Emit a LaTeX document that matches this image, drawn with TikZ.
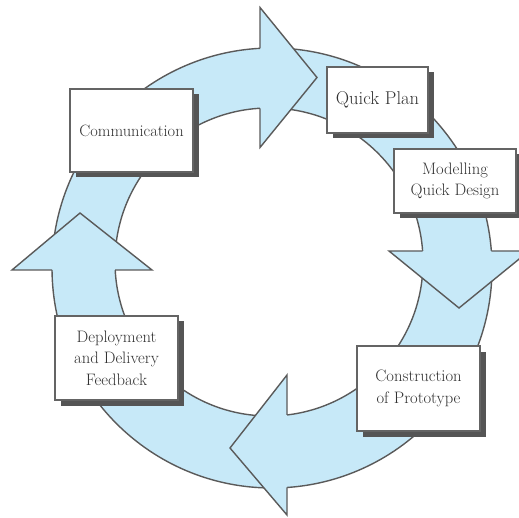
\documentclass[tikz,border=0pt]{standalone}
\usetikzlibrary{shadows}
\definecolor{bandfill}{RGB}{199,233,248}
\definecolor{ringline}{RGB}{90,90,90}
\definecolor{boxline}{RGB}{100,100,100}
\definecolor{shadowgray}{RGB}{85,85,85}
\definecolor{txtgray}{RGB}{50,50,50}
\begin{document}
\begin{tikzpicture}[x=1pt,y=1pt,
  ring/.style={draw=ringline, line width=1.4pt, line join=miter},
  stagebox/.style={draw=boxline, line width=1.8pt, fill=white, inner sep=0pt,
    align=center, text=txtgray, font=\fontsize{16.6}{21.5}\selectfont,
    drop shadow={shadow xshift=5.5pt, shadow yshift=-5.5pt, fill=shadowgray, opacity=1}},
]
\useasboundingbox (0,0) rectangle (519,517);
\fill[white] (0,0) rectangle (519,517);
% ring body
\fill[bandfill, even odd rule] (272,249) circle[radius=220] (269,255) circle[radius=154];
\draw[ring] (272,249) circle[radius=220];
\draw[ring] (269,255) circle[radius=154];
% top head (pointing right)
\fill[bandfill] (260,509.5) -- (317,439.5) -- (260,369.5) -- cycle;
\draw[ring] (260,468.67) -- (260,509.5) -- (317,439.5) -- (260,369.5) -- (260,408.74);
% right head (pointing down)
\fill[bandfill] (389,266) -- (459,209) -- (529,266) -- cycle;
\draw[ring] (422.61,266) -- (389,266) -- (459,209) -- (529,266) -- (491.34,266);
% bottom head (pointing left)
\fill[bandfill] (287,142) -- (230,69) -- (287,2) -- cycle;
\draw[ring] (287,102.06) -- (287,142) -- (230,69) -- (287,2) -- (287,29.51);
% left head (pointing up)
\fill[bandfill] (12,247) -- (80,304) -- (152,247) -- cycle;
\draw[ring] (52.01,247) -- (12,247) -- (80,304) -- (152,247) -- (115.21,247);
% boxes
\node[stagebox, minimum width=123pt, minimum height=83pt, font=\fontsize{16.4}{21}\selectfont] (comm) at (131.5,386.5) {Communication};
\node[stagebox, minimum width=101pt, minimum height=66pt, font=\fontsize{18.5}{24}\selectfont] (plan) at (377.5,417) {Quick Plan};
\node[stagebox, minimum width=122pt, minimum height=64pt] (model) at (455,336) {Modelling\\Quick Design};
\node[stagebox, minimum width=123pt, minimum height=85pt] (cons) at (418.5,128.5) {Construction\\of Prototype};
\node[stagebox, minimum width=123pt, minimum height=84pt] (dep) at (116.5,159) {Deployment\\and Delivery\\Feedback};
\end{tikzpicture}
\end{document}
